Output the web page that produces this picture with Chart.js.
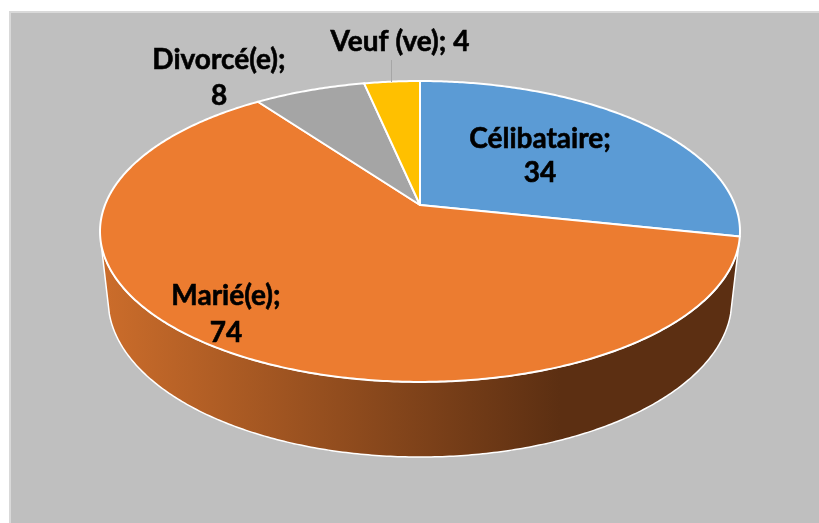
<!DOCTYPE html>
<html lang="fr">
<head>
    <meta charset="UTF-8">
    <title>Situation matrimoniale</title>
    <script src="https://cdn.jsdelivr.net/npm/chart.js"></script>
    <style>
        html, body { margin: 0; padding: 0; background: #fff; }
        canvas { display: block; }
    </style>
</head>
<body>
    <canvas id="pie" width="819" height="523"></canvas>

    <script>
        const categories = ['Célibataire', 'Marié(e)', 'Divorcé(e)', 'Veuf (ve)'];
        const values = [34, 74, 8, 4];
        const colors = ['#5B9BD5', '#EC7C30', '#A5A5A5', '#FFC000'];

        // label lines and where they sit, same order as categories
        const labelLines = [['Célibataire;', '34'], ['Marié(e);', '74'], ['Divorcé(e);', '8'], ['Veuf (ve); 4']];
        const labelSpots = [[540, 139, 34], [226, 296, 37], [219, 60, 36], [400, 42, 0]];

        // perspective of the disc: top face and bottom face
        const topFace = { cx: 420, c: 315, a: 109.7, b: 205, k: -0.176 };
        const bottomFace = { cx: 420, c: 307, a: 104.2, b: 272.4, k: -0.176 };
        const wallFrom = 105 * Math.PI / 180;
        const wallTo = 255 * Math.PI / 180;

        // t is clockwise from the top of the disc, r is 0..1
        function project(face, t, r) {
            const u = r * Math.sin(t);
            const v = -r * Math.cos(t);
            const d = 1 + face.k * v;
            return [face.cx + face.c * u / d, (face.a * v + face.b) / d];
        }

        function traceRim(ctx, face, from, to) {
            const steps = Math.max(2, Math.ceil(Math.abs(to - from) / 0.01));
            for (let i = 0; i <= steps; i++) {
                const p = project(face, from + (to - from) * i / steps, 1);
                ctx.lineTo(p[0], p[1]);
            }
        }

        const backdrop = {
            id: 'backdrop',
            beforeDraw(chart) {
                const ctx = chart.ctx;
                ctx.save();
                ctx.fillStyle = '#D9D9D9';
                ctx.fillRect(9, 11, chart.width - 9, chart.height - 11);
                ctx.fillStyle = '#BFBFBF';
                ctx.fillRect(11, 13, chart.width - 11, chart.height - 13);
                ctx.restore();
            }
        };

        const disc3d = {
            id: 'disc3d',
            beforeDatasetDraw(chart) {
                const ctx = chart.ctx;
                const arcs = chart.getDatasetMeta(0).data;
                ctx.save();
                ctx.lineJoin = 'round';

                // side wall, only the slices that face the viewer
                const shade = ctx.createLinearGradient(100, 0, 560, 0);
                shade.addColorStop(0, '#CC6D2B');
                shade.addColorStop(1, '#5C2F12');
                arcs.forEach(arc => {
                    const from = Math.max(arc.startAngle + Math.PI / 2, wallFrom);
                    const to = Math.min(arc.endAngle + Math.PI / 2, wallTo);
                    if (to <= from) return;
                    ctx.beginPath();
                    traceRim(ctx, topFace, from, to);
                    traceRim(ctx, bottomFace, to, from);
                    ctx.closePath();
                    ctx.fillStyle = shade;
                    ctx.fill();
                    ctx.strokeStyle = arc.options.borderColor;
                    ctx.lineWidth = 1.5;
                    ctx.stroke();
                });

                // top face
                arcs.forEach(arc => {
                    const p = project(topFace, 0, 0);
                    ctx.beginPath();
                    ctx.moveTo(p[0], p[1]);
                    traceRim(ctx, topFace, arc.startAngle + Math.PI / 2, arc.endAngle + Math.PI / 2);
                    ctx.closePath();
                    ctx.fillStyle = arc.options.backgroundColor;
                    ctx.fill();
                    ctx.strokeStyle = arc.options.borderColor;
                    ctx.lineWidth = arc.options.borderWidth;
                    ctx.stroke();
                });
                ctx.restore();
                return false;
            },
            afterDatasetsDraw(chart) {
                const ctx = chart.ctx;
                ctx.save();

                // leader line of Veuf (ve)
                ctx.strokeStyle = '#A6A6A6';
                ctx.lineWidth = 1;
                ctx.beginPath();
                ctx.moveTo(391.5, 60);
                ctx.lineTo(391.5, 82);
                ctx.stroke();

                ctx.fillStyle = '#000';
                ctx.strokeStyle = '#000';
                ctx.lineWidth = 0.6;
                ctx.font = 'bold 28px Lato';
                ctx.textAlign = 'center';
                ctx.textBaseline = 'middle';
                labelLines.forEach((lines, i) => {
                    const [x, y, gap] = labelSpots[i];
                    lines.forEach((line, n) => {
                        ctx.fillText(line, x, y + n * gap);
                        ctx.strokeText(line, x, y + n * gap);
                    });
                });
                ctx.restore();
            }
        };

        new Chart(document.getElementById('pie'), {
            type: 'pie',
            data: {
                labels: categories,
                datasets: [{
                    data: values,
                    backgroundColor: colors,
                    borderColor: '#FFFFFF',
                    borderWidth: 2
                }]
            },
            options: {
                responsive: false,
                animation: false,
                events: [],
                plugins: {
                    legend: { display: false },
                    tooltip: { enabled: false }
                }
            },
            plugins: [backdrop, disc3d]
        });
    </script>
</body>
</html>
